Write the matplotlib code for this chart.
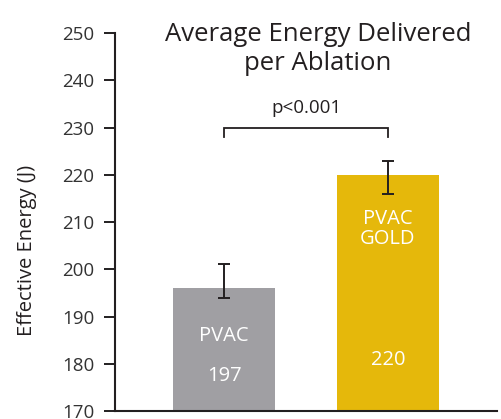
import matplotlib.pyplot as plt

plt.rcParams["font.family"] = ["Open Sans", "DejaVu Sans"]

groups = ["PVAC", "PVAC\nGOLD"]
values = [196.0, 220.0]
means = [197.5, 219.5]
errors = [3.6, 3.5]
labels = ["197", "220"]
colors = ["#a09fa3", "#e5b80b"]
yticks = [170, 180, 190, 200, 210, 220, 230, 240, 250]

ink = "#231f20"
tick_ink = "#333333"

fig = plt.figure(figsize=(5.02, 4.19), dpi=100)
ax = fig.add_axes([0.229, 0.019, 0.761, 0.902])

x = [0, 1]
ax.bar(x, [v - 170 for v in values], bottom=170, width=0.62, color=colors, zorder=2)
ax.errorbar(x, means, yerr=errors, fmt="none", ecolor=ink, elinewidth=1.4,
            capsize=4, capthick=1.4, zorder=3)

# labels inside bars
ax.text(0, 185.9, groups[0], ha="center", va="center", color="white", fontsize=14.5)
ax.text(0, 177.4, labels[0], ha="center", va="center", color="white", fontsize=14.5)
ax.text(1, 208.6, groups[1], ha="center", va="center", color="white", fontsize=14.5,
        linespacing=1.0)
ax.text(1, 180.8, labels[1], ha="center", va="center", color="white", fontsize=14.5)

# significance bracket
ax.plot([0, 0, 1, 1], [228.1, 229.9, 229.9, 228.1], color=ink, lw=1.3,
        solid_joinstyle="miter", clip_on=False)
ax.text(0.5, 234.1, "p<0.001", ha="center", va="center", fontsize=13.5, color=ink)

ax.text(0.531, 0.958, "Average Energy Delivered\nper Ablation", transform=ax.transAxes,
        ha="center", va="center", fontsize=18.5, color=ink, linespacing=1.25)

ax.set_xlim(-0.665, 1.665)
ax.set_ylim(170, 250)
ax.set_yticks(yticks)
ax.set_xticks([])
ax.set_ylabel("Effective Energy (J)", fontsize=14.5, color=ink)
ax.yaxis.set_label_coords(-0.205, 0.426)
ax.tick_params(axis="y", direction="out", length=8, width=1.4, color=ink,
               labelcolor=tick_ink, labelsize=13.5, pad=7)
for s in ["top", "right"]:
    ax.spines[s].set_visible(False)
for s in ["left", "bottom"]:
    ax.spines[s].set_color(ink)
    ax.spines[s].set_linewidth(1.5)

fig.savefig("out.png", dpi=100)
